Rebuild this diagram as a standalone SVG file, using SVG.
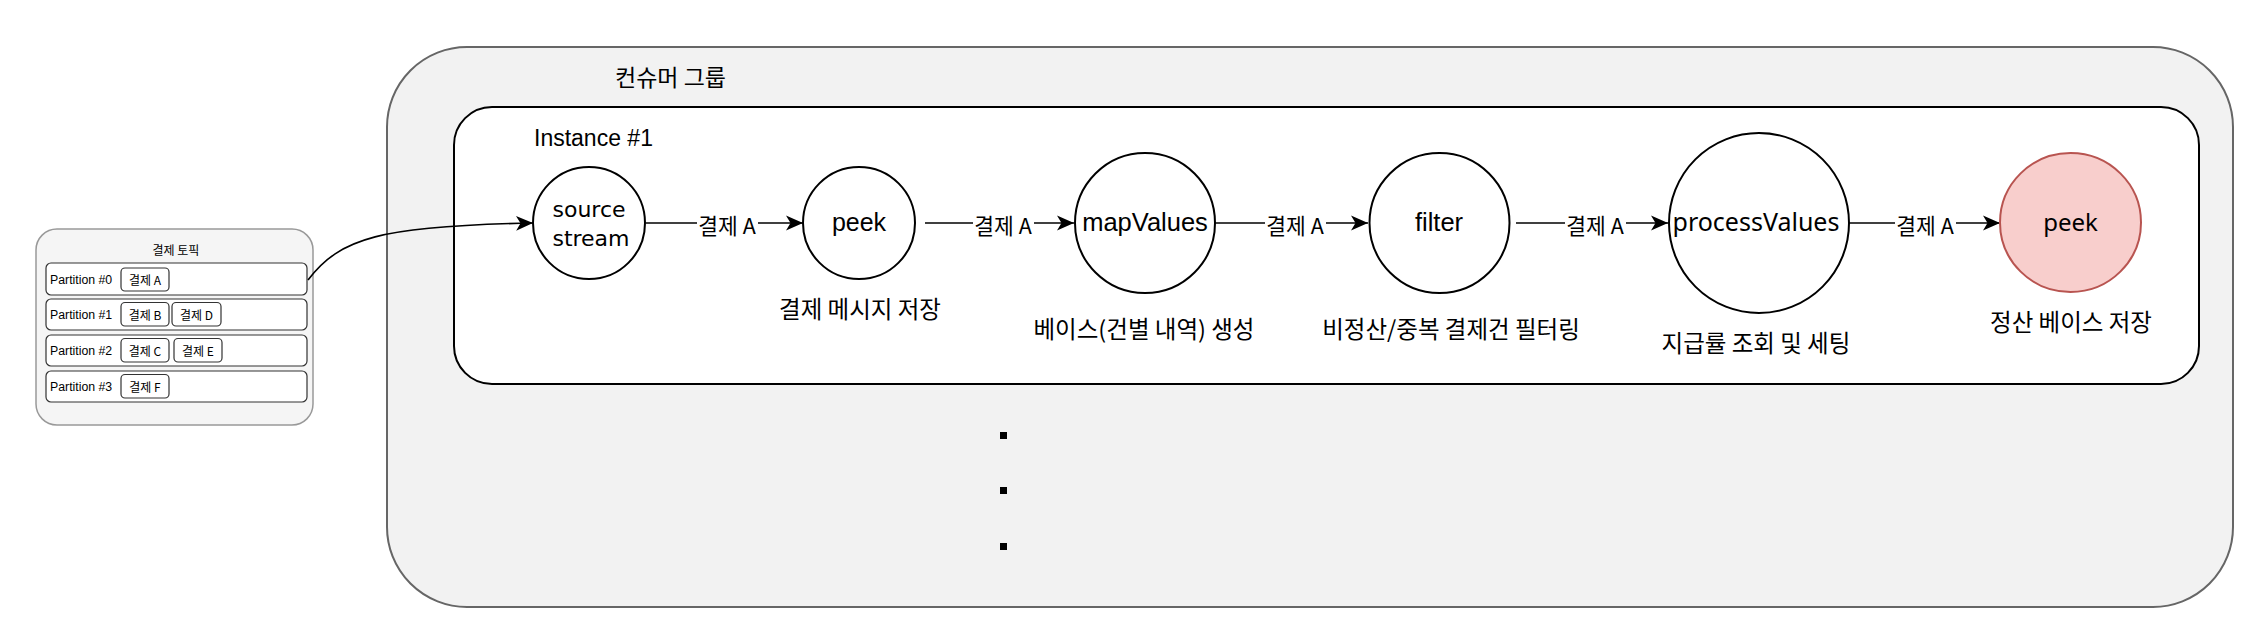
<svg xmlns="http://www.w3.org/2000/svg" width="2262" height="644" viewBox="0 0 2262 644">
<style>
.kr{font-family:"Noto Sans CJK KR","Noto Sans",sans-serif;fill:#000}
.lat{font-family:"Liberation Sans",Arial,sans-serif;fill:#000}
.noto{font-family:"Noto Sans","Noto Sans CJK KR",sans-serif;fill:#000}
.node{fill:#fff;stroke:#000;stroke-width:2}
.edge{fill:none;stroke:#000;stroke-width:1.6}
.lblbg{fill:#fff}
.row{fill:#fff;stroke:#333;stroke-width:1.2}
.chip{fill:#fff;stroke:#333;stroke-width:1.2}
.mid{text-anchor:middle;dominant-baseline:central}
.sub{font-size:23.5px}
.el{font-size:21.5px}
</style>
<defs>
<marker id="arr" markerUnits="userSpaceOnUse" markerWidth="18" markerHeight="18" refX="17" refY="9" orient="auto" viewBox="0 0 18 18">
<path d="M0,1.5 L17,9 L0,16.5 L4.5,9 Z" fill="#000"/>
</marker>
</defs>
<rect width="2262" height="644" fill="#fff"/>

<g id="topic">
<rect x="36" y="229" width="277" height="196" rx="21" fill="#f5f5f5" stroke="#999" stroke-width="1.5"/>
<text class="kr mid" x="176" y="249" font-size="12">결제 토픽</text>
<rect class="row" x="46" y="263" width="261" height="32" rx="5"/>
<rect class="row" x="46" y="299" width="261" height="31" rx="5"/>
<rect class="row" x="46" y="335" width="261" height="31" rx="5"/>
<rect class="row" x="46" y="371" width="261" height="31" rx="5"/>
<text class="lat" x="50" y="283.5" font-size="12.3">Partition #0</text>
<text class="lat" x="50" y="319" font-size="12.3">Partition #1</text>
<text class="lat" x="50" y="355" font-size="12.3">Partition #2</text>
<text class="lat" x="50" y="391" font-size="12.3">Partition #3</text>
<rect class="chip" x="121" y="268" width="48" height="23" rx="4"/>
<text class="kr mid" x="145" y="279" font-size="12">결제 A</text>
<rect class="chip" x="121" y="302.5" width="48" height="23.5" rx="4"/>
<text class="kr mid" x="145" y="314" font-size="12">결제 B</text>
<rect class="chip" x="172" y="302.5" width="49" height="23.5" rx="4"/>
<text class="kr mid" x="196.5" y="314" font-size="12">결제 D</text>
<rect class="chip" x="121" y="338.5" width="48" height="23.5" rx="4"/>
<text class="kr mid" x="145" y="350" font-size="12">결제 C</text>
<rect class="chip" x="174" y="338.5" width="48" height="23.5" rx="4"/>
<text class="kr mid" x="198" y="350" font-size="12">결제 E</text>
<rect class="chip" x="121" y="374.5" width="48" height="23.5" rx="4"/>
<text class="kr mid" x="145" y="386" font-size="12">결제 F</text>
</g>

<g id="consumer-group">
<rect x="387" y="47" width="1846" height="560" rx="80" fill="#f2f2f2" stroke="#666" stroke-width="2"/>
<text class="kr" x="615" y="86" font-size="23">컨슈머 그룹</text>
<rect x="1000" y="432" width="7" height="7" fill="#000"/>
<rect x="1000" y="487" width="7" height="7" fill="#000"/>
<rect x="1000" y="543" width="7" height="7" fill="#000"/>
</g>

<g id="instance-1">
<rect x="454" y="107" width="1745" height="277" rx="38" fill="#fff" stroke="#000" stroke-width="2"/>
<text class="lat" x="534" y="146" font-size="23">Instance #1</text>
</g>

<g id="connectors">
<path class="edge" d="M308,280 C340,238 380,226 533,223" marker-end="url(#arr)"/>
<line class="edge" x1="646" y1="223" x2="803" y2="223" marker-end="url(#arr)"/>
<line class="edge" x1="925" y1="223" x2="1074" y2="223" marker-end="url(#arr)"/>
<line class="edge" x1="1215" y1="223" x2="1368" y2="223" marker-end="url(#arr)"/>
<line class="edge" x1="1516" y1="223" x2="1668" y2="223" marker-end="url(#arr)"/>
<line class="edge" x1="1849" y1="223" x2="2000" y2="223" marker-end="url(#arr)"/>
<rect class="lblbg" x="697" y="211" width="61" height="26"/>
<text class="kr mid el" x="727" y="224">결제 A</text>
<rect class="lblbg" x="973" y="211" width="61" height="26"/>
<text class="kr mid el" x="1003" y="224">결제 A</text>
<rect class="lblbg" x="1265" y="211" width="61" height="26"/>
<text class="kr mid el" x="1295" y="224">결제 A</text>
<rect class="lblbg" x="1565" y="211" width="61" height="26"/>
<text class="kr mid el" x="1595" y="224">결제 A</text>
<rect class="lblbg" x="1895" y="211" width="61" height="26"/>
<text class="kr mid el" x="1925" y="224">결제 A</text>
</g>

<g id="source-stream">
<circle class="node" cx="589" cy="223" r="56"/>
<text class="mid" x="589" y="209" font-size="22" font-family="DejaVu Sans, sans-serif">source</text>
<text class="mid" x="591" y="238" font-size="22" font-family="DejaVu Sans, sans-serif">stream</text>
</g>

<g id="peek-1">
<circle class="node" cx="859" cy="223" r="56"/>
<text class="lat mid" x="859" y="222" font-size="25">peek</text>
<text class="kr mid sub" x="860" y="308">결제 메시지 저장</text>
</g>

<g id="mapValues">
<circle class="node" cx="1145" cy="223" r="70"/>
<text class="lat mid" x="1145" y="222" font-size="25.5">mapValues</text>
<text class="kr mid sub" x="1144" y="328">베이스(건별 내역) 생성</text>
</g>

<g id="filter">
<circle class="node" cx="1439.5" cy="223" r="70"/>
<text class="lat mid" x="1439" y="222" font-size="25.5">filter</text>
<text class="kr mid sub" x="1451" y="328">비정산/중복 결제건 필터링</text>
</g>

<g id="processValues">
<circle class="node" cx="1759" cy="223" r="90"/>
<text class="noto mid" x="1756" y="221" font-size="25">processValues</text>
<text class="kr mid sub" x="1756" y="342">지급률 조회 및 세팅</text>
</g>

<g id="peek-2">
<ellipse cx="2070.5" cy="222.5" rx="70.5" ry="69.5" fill="#f8cecc" stroke="#b85450" stroke-width="2"/>
<text class="noto mid" x="2070.5" y="221" font-size="24">peek</text>
<text class="kr mid sub" x="2071" y="321">정산 베이스 저장</text>
</g>
</svg>
